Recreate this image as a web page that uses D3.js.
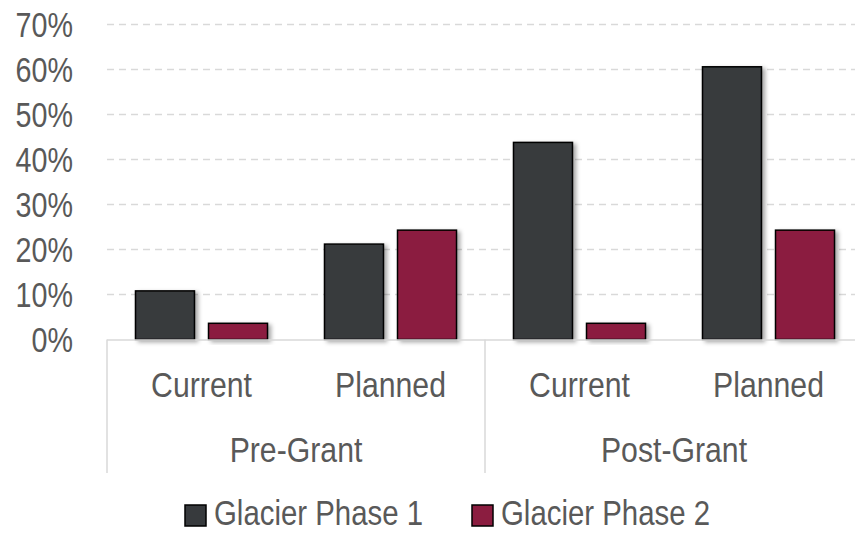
<!DOCTYPE html>
<html>
<head>
<meta charset="utf-8">
<script src="https://cdn.jsdelivr.net/npm/d3@7"></script>
<style>
  html, body { margin: 0; padding: 0; background: #ffffff; }
  svg { display: block; }
  text { font-family: "Liberation Sans", Arial, sans-serif; fill: #595959; font-size: 36px; }
</style>
</head>
<body>
<svg id="chart" width="855" height="533"></svg>
<script>
// Chart data
const groups = ["Pre-Grant", "Post-Grant"];
const stages = ["Current", "Planned"];
const seriesNames = ["Glacier Phase 1", "Glacier Phase 2"];
const phase1 = [0.108, 0.212, 0.438, 0.606];
const phase2 = [0.036, 0.243, 0.036, 0.243];
const yTicks = [0, 0.1, 0.2, 0.3, 0.4, 0.5, 0.6, 0.7];
const colors = ["#373a3d", "#8b1d40"];

const svg = d3.select("#chart");
const W = 855, H = 533;
const plotLeft = 107, plotRight = 863, plotTop = 24.5, plotBottom = 339.5;
const narrow = 0.84; // horizontal condensing of the label face

// Category keys: one slot per group/stage pair
const cats = [];
groups.forEach(g => stages.forEach(s => cats.push({ group: g, stage: s, key: g + "|" + s })));
const values = [phase1, phase2];

const x = d3.scaleBand().domain(cats.map(c => c.key)).range([plotLeft, plotRight]).padding(0);
const xg = d3.scaleBand().domain(groups).range([plotLeft, plotRight]).padding(0);
const xs = d3.scaleBand().domain(seriesNames).range([0, x.bandwidth()])
  .paddingInner(0.192).paddingOuter(0.39);
const y = d3.scaleLinear().domain([0, 0.7]).range([plotBottom, plotTop]);

// Condensed text helper
function label(sel, tx, ty, anchor) {
  return sel.attr("transform", (d, i) => `translate(${tx(d, i)},${ty(d, i)}) scale(${narrow},1)`)
    .attr("text-anchor", anchor);
}

// Drop shadow for bars
const defs = svg.append("defs");
const f = defs.append("filter").attr("id", "shadow")
  .attr("x", "-20%").attr("y", "-20%").attr("width", "150%").attr("height", "150%");
f.append("feDropShadow").attr("dx", 3).attr("dy", 2).attr("stdDeviation", 2.2)
  .attr("flood-color", "#000").attr("flood-opacity", 0.35);

// Horizontal dashed gridlines
svg.append("g").selectAll("line")
  .data(yTicks.filter(d => d > 0))
  .join("line")
  .attr("x1", plotLeft).attr("x2", W)
  .attr("y1", d => y(d)).attr("y2", d => y(d))
  .attr("stroke", "#d9d9d9").attr("stroke-width", 1.5)
  .attr("stroke-dasharray", "7,5");

// Y axis labels
const yAxis = d3.axisLeft(y).tickValues(yTicks).tickSize(0).tickPadding(0)
  .tickFormat(d3.format(".0%"));
const ya = svg.append("g").call(yAxis);
ya.select(".domain").remove();
ya.selectAll(".tick").attr("transform", d => `translate(73,${y(d)}) scale(0.82,1)`);
ya.selectAll("text").style("font-size", "35px").attr("fill", "#595959")
  .style("font-family", "\"Liberation Sans\", Arial, sans-serif")
  .attr("x", 0).attr("dy", "0.36em");

// Bars
const barG = svg.append("g");
seriesNames.forEach((s, si) => {
  barG.append("g").selectAll("rect")
    .data(cats.map((c, i) => ({ key: c.key, v: values[si][i] })))
    .join("rect")
    .attr("x", d => x(d.key) + xs(s))
    .attr("width", xs.bandwidth())
    .attr("y", d => y(d.v))
    .attr("height", d => y(0) - y(d.v))
    .attr("fill", colors[si])
    .attr("stroke", "#000").attr("stroke-width", 1.5)
    .attr("filter", "url(#shadow)");
});

// Category axis line
svg.append("line")
  .attr("x1", plotLeft).attr("x2", W)
  .attr("y1", plotBottom + 0.5).attr("y2", plotBottom + 0.5)
  .attr("stroke", "#d9d9d9").attr("stroke-width", 1.5);

// Group separators
const seps = groups.map(g => xg(g)).concat([plotRight]);
svg.append("g").selectAll("line").data(seps).join("line")
  .attr("x1", d => d).attr("x2", d => d)
  .attr("y1", plotBottom).attr("y2", 473)
  .attr("stroke", "#d9d9d9").attr("stroke-width", 1.5);

// Stage labels
label(svg.append("g").selectAll("text").data(cats).join("text").text(d => d.stage),
  d => x(d.key) + x.bandwidth() / 2, () => 397, "middle");

// Group labels
label(svg.append("g").selectAll("text").data(groups).join("text").text(d => d),
  d => xg(d) + xg.bandwidth() / 2, () => 462, "middle");

// Legend
const legendX = [185, 472];
const lg = svg.append("g").selectAll("g").data(seriesNames).join("g")
  .attr("transform", (d, i) => `translate(${legendX[i]},0)`);
lg.append("rect")
  .attr("x", 0).attr("y", 505).attr("width", 21).attr("height", 21)
  .attr("fill", (d, i) => colors[i]).attr("stroke", "#000").attr("stroke-width", 1.5);
label(lg.append("text").text(d => d).style("font-size", "35px"), () => 29, () => 525, "start");
</script>
</body>
</html>
